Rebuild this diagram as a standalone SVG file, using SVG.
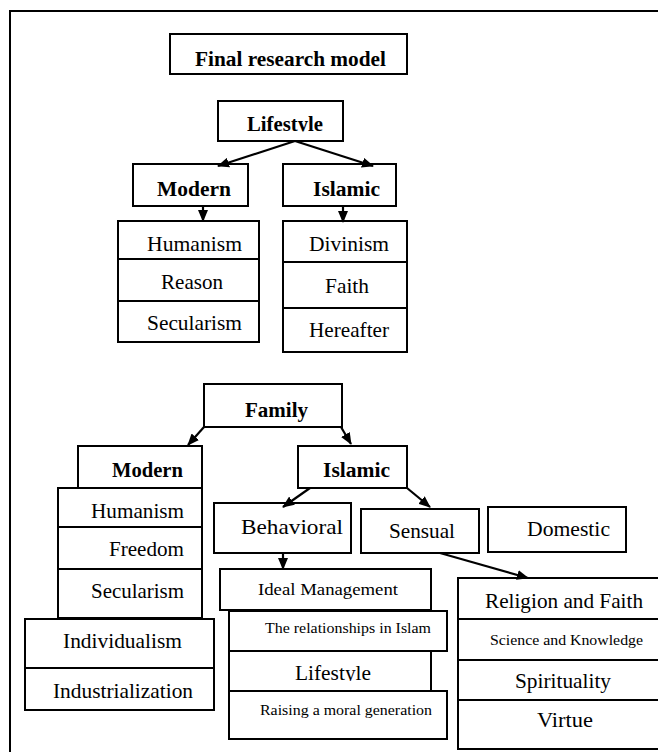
<svg xmlns="http://www.w3.org/2000/svg" width="658" height="752" viewBox="0 0 658 752">
<style>
.b{fill:#fff;stroke:#000;stroke-width:2}
.l{stroke:#000;stroke-width:2;fill:none}
.t{font-family:"Liberation Serif","Times New Roman",serif;fill:#000}
.bd{font-weight:bold}
.c{stroke:#000;stroke-width:2.2;fill:none}
</style>
<defs>
<marker id="ah" markerUnits="userSpaceOnUse" markerWidth="12" markerHeight="10" refX="11" refY="5" orient="auto">
<path d="M0,0 L12,5 L0,10 Z" fill="#000"/>
</marker>
<clipPath id="c1"><rect x="0" y="0" width="658" height="66.5"/></clipPath>
<clipPath id="c2"><rect x="0" y="100" width="658" height="31.5"/></clipPath>
<clipPath id="c3"><rect x="0" y="652" width="658" height="29"/></clipPath>
</defs>
<rect width="658" height="752" fill="#fff"/>
<path class="l" d="M10,760 L10,11 L670,11"/>

<g id="title">
<rect class="b" x="170" y="34" width="237" height="40"/>
<text class="t bd" x="195" y="66" font-size="20" textLength="191" lengthAdjust="spacingAndGlyphs" clip-path="url(#c1)">Final research model</text>
</g>

<g id="lifestyle">
<rect class="b" x="218" y="101" width="125" height="40"/>
<text class="t bd" x="247" y="131" font-size="20" textLength="76" lengthAdjust="spacingAndGlyphs" clip-path="url(#c2)">Lifestyle</text>
</g>

<g id="modern1">
<rect class="b" x="133" y="164" width="115" height="42"/>
<text class="t bd" x="157" y="196" font-size="20" textLength="74" lengthAdjust="spacingAndGlyphs">Modern</text>
</g>
<g id="islamic1">
<rect class="b" x="283" y="164" width="113" height="42"/>
<text class="t bd" x="313" y="196" font-size="20" textLength="67" lengthAdjust="spacingAndGlyphs">Islamic</text>
</g>

<g id="modern1-list">
<rect class="b" x="118" y="221" width="141" height="121"/>
<path class="l" d="M118,259 H259 M118,301 H259"/>
<text class="t" x="147" y="251" font-size="21" textLength="95" lengthAdjust="spacingAndGlyphs">Humanism</text>
<text class="t" x="161" y="289" font-size="21" textLength="62" lengthAdjust="spacingAndGlyphs">Reason</text>
<text class="t" x="147" y="330" font-size="21" textLength="95" lengthAdjust="spacingAndGlyphs">Secularism</text>
</g>
<g id="islamic1-list">
<rect class="b" x="283" y="221" width="124" height="131"/>
<path class="l" d="M283,262 H407 M283,308 H407"/>
<text class="t" x="309" y="251" font-size="21" textLength="80" lengthAdjust="spacingAndGlyphs">Divinism</text>
<text class="t" x="325" y="293" font-size="21" textLength="44" lengthAdjust="spacingAndGlyphs">Faith</text>
<text class="t" x="309" y="337" font-size="21" textLength="80" lengthAdjust="spacingAndGlyphs">Hereafter</text>
</g>

<g id="family">
<rect class="b" x="204" y="384" width="138" height="43"/>
<text class="t bd" x="245" y="417" font-size="21" textLength="63" lengthAdjust="spacingAndGlyphs">Family</text>
</g>

<g id="modern2">
<rect class="b" x="78" y="446" width="124" height="42"/>
<text class="t bd" x="112" y="477" font-size="20" textLength="71" lengthAdjust="spacingAndGlyphs">Modern</text>
</g>
<g id="modern2-list">
<rect class="b" x="58" y="488" width="144" height="130"/>
<path class="l" d="M58,527 H202 M58,569 H202"/>
<text class="t" x="91" y="518" font-size="21" textLength="93" lengthAdjust="spacingAndGlyphs">Humanism</text>
<text class="t" x="109" y="556" font-size="21" textLength="75" lengthAdjust="spacingAndGlyphs">Freedom</text>
<text class="t" x="91" y="598" font-size="21" textLength="93" lengthAdjust="spacingAndGlyphs">Secularism</text>
</g>
<g id="modern2-more">
<rect class="b" x="25" y="619" width="189" height="91"/>
<path class="l" d="M25,668 H214"/>
<text class="t" x="63" y="648" font-size="21" textLength="119" lengthAdjust="spacingAndGlyphs">Individualism</text>
<text class="t" x="53" y="698" font-size="21" textLength="140" lengthAdjust="spacingAndGlyphs">Industrialization</text>
</g>

<g id="islamic2">
<rect class="b" x="298" y="446" width="109" height="42"/>
<text class="t bd" x="323" y="477" font-size="20" textLength="67" lengthAdjust="spacingAndGlyphs">Islamic</text>
</g>

<g id="behavioral">
<rect class="b" x="214" y="503" width="137" height="50"/>
<text class="t" x="241" y="534" font-size="21" textLength="102" lengthAdjust="spacingAndGlyphs">Behavioral</text>
</g>
<g id="sensual">
<rect class="b" x="361" y="509" width="118" height="44"/>
<text class="t" x="389" y="538" font-size="21" textLength="66" lengthAdjust="spacingAndGlyphs">Sensual</text>
</g>
<g id="domestic">
<rect class="b" x="488" y="507" width="138" height="45"/>
<text class="t" x="527" y="536" font-size="21" textLength="83" lengthAdjust="spacingAndGlyphs">Domestic</text>
</g>

<g id="behavioral-list">
<rect class="b" x="229" y="651" width="202" height="40"/>
<text class="t" x="295" y="680" font-size="21" textLength="76" lengthAdjust="spacingAndGlyphs" clip-path="url(#c3)">Lifestyle</text>
<rect class="b" x="229" y="691" width="218" height="48"/>
<text class="t" x="260" y="715" font-size="15" textLength="172" lengthAdjust="spacingAndGlyphs">Raising a moral generation</text>
<rect class="b" x="220" y="569" width="211" height="41"/>
<text class="t" x="258" y="595" font-size="16" textLength="140" lengthAdjust="spacingAndGlyphs">Ideal Management</text>
<rect class="b" x="229" y="611" width="218" height="40"/>
<text class="t" x="265" y="633" font-size="15" textLength="166" lengthAdjust="spacingAndGlyphs">The relationships in Islam</text>
</g>

<g id="sensual-list">
<rect class="b" x="458" y="578" width="220" height="171"/>
<path class="l" d="M458,619 H678 M458,660 H678 M458,700 H678"/>
<text class="t" x="485" y="608" font-size="21" textLength="158" lengthAdjust="spacingAndGlyphs">Religion and Faith</text>
<text class="t" x="490" y="645" font-size="15" textLength="153" lengthAdjust="spacingAndGlyphs">Science and Knowledge</text>
<text class="t" x="515" y="688" font-size="21" textLength="96" lengthAdjust="spacingAndGlyphs">Spirituality</text>
<text class="t" x="537" y="727" font-size="21" textLength="56" lengthAdjust="spacingAndGlyphs">Virtue</text>
</g>

<g id="connectors">
<path class="c" d="M295,141 L218,166" marker-end="url(#ah)"/>
<path class="c" d="M295,141 L373,166" marker-end="url(#ah)"/>
<path class="c" d="M203,206 L203,221" marker-end="url(#ah)"/>
<path class="c" d="M343,206 L343,222" marker-end="url(#ah)"/>
<path class="c" d="M204,427 L188,445" marker-end="url(#ah)"/>
<path class="c" d="M341,427 L351,444" marker-end="url(#ah)"/>
<path class="c" d="M310,488 L283,507" marker-end="url(#ah)"/>
<path class="c" d="M407,488 L430,507" marker-end="url(#ah)"/>
<path class="c" d="M283,553 L283,569" marker-end="url(#ah)"/>
<path class="c" d="M440,553 L528,578" marker-end="url(#ah)"/>
</g>
</svg>
